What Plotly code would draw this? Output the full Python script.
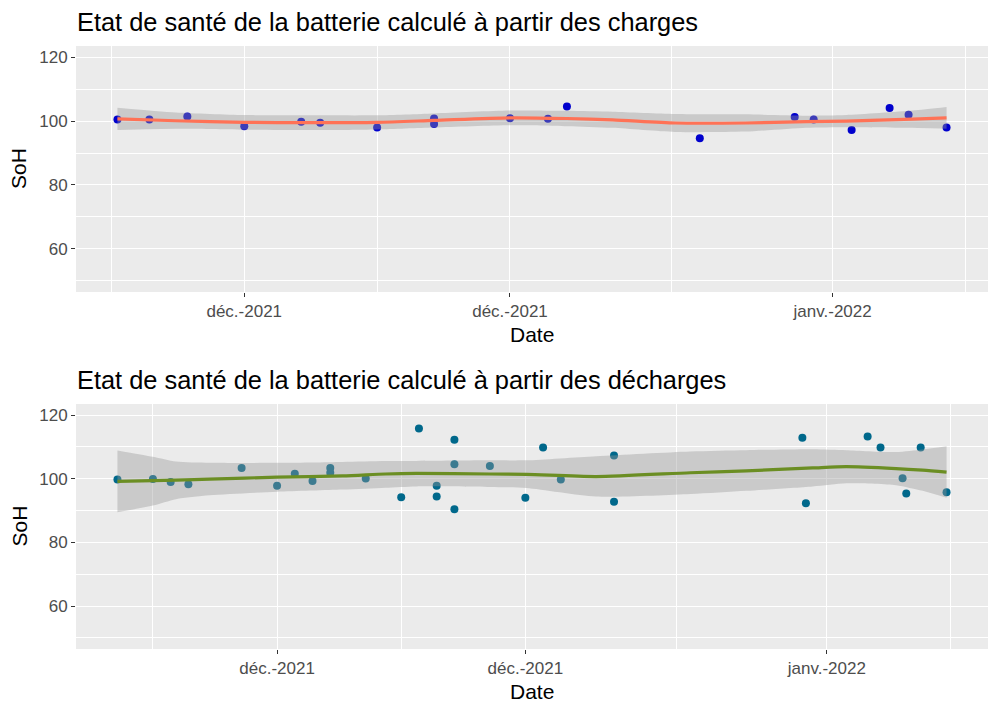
import plotly.graph_objects as go
import pandas as pd

# ---------------- data: charges ----------------
charge_dates = ["2021-11-24 07:40", "2021-11-26", "2021-11-28", "2021-12-01", "2021-12-04",
                "2021-12-05", "2021-12-08", "2021-12-11", "2021-12-11", "2021-12-15",
                "2021-12-17", "2021-12-18", "2021-12-25", "2021-12-30", "2021-12-31",
                "2022-01-02", "2022-01-04", "2022-01-05", "2022-01-07"]
charge_soh = [100.5, 100.5, 101.4, 98.4, 99.8, 99.5, 98.0, 100.8, 99.1, 100.9,
              100.7, 104.6, 94.6, 101.3, 100.5, 97.2, 104.1, 102.0, 98.0]

charge_fit_dates = ["2021-11-24 07:40", "2021-11-27 09:36", "2021-12-01", "2021-12-04 09:36",
                    "2021-12-08", "2021-12-11", "2021-12-15", "2021-12-18", "2021-12-20 09:36",
                    "2021-12-23 17:00", "2021-12-27 09:36", "2021-12-30 14:24", "2022-01-01 17:00",
                    "2022-01-05 05:00", "2022-01-07"]
charge_fit = [100.7, 100.1, 99.6, 99.5, 99.6, 100.2, 101.0, 100.8, 100.4, 99.4, 99.4, 99.8, 100.0, 100.6, 101.0]
charge_upper = [104.2, 102.7, 101.9, 101.8, 101.8, 102.4, 103.3, 103.2, 102.9, 102.2, 102.1, 101.7, 101.9, 103.3, 104.4]
charge_lower = [97.2, 97.6, 97.3, 97.2, 97.4, 98.0, 98.7, 98.4, 97.9, 96.6, 96.7, 97.9, 98.1, 97.9, 97.6]

# ---------------- data: décharges ----------------
discharge_dates = ["2021-11-22", "2021-11-24", "2021-11-25", "2021-11-26", "2021-11-29",
                   "2021-12-01", "2021-12-02", "2021-12-03", "2021-12-04", "2021-12-04",
                   "2021-12-06", "2021-12-08", "2021-12-09", "2021-12-10", "2021-12-10",
                   "2021-12-11", "2021-12-11", "2021-12-11", "2021-12-13", "2021-12-15",
                   "2021-12-16", "2021-12-17", "2021-12-20", "2021-12-20",
                   "2021-12-30 14:53", "2021-12-30 19:40", "2022-01-03 07:12", "2022-01-04 00:40",
                   "2022-01-05 06:30", "2022-01-05 11:30", "2022-01-06 07:00", "2022-01-07 18:00"]
discharge_soh = [99.8, 99.9, 99.0, 98.3, 103.4, 97.8, 101.6, 99.3, 103.4, 101.9,
                 100.1, 94.2, 115.8, 97.8, 94.4, 112.3, 104.6, 90.4, 104.0, 94.0,
                 109.8, 99.8, 107.3, 92.8, 112.9, 92.3, 113.3, 109.8, 100.2, 95.4, 109.8, 95.8]

discharge_fit_dates = ["2021-11-22", "2021-11-24", "2021-11-25 07:12", "2021-11-27 04:48",
                       "2021-12-01", "2021-12-04 16:48", "2021-12-07 02:24", "2021-12-08 20:38",
                       "2021-12-13", "2021-12-15 01:26", "2021-12-19", "2021-12-24 07:12",
                       "2021-12-27 11:02", "2021-12-31 04:48", "2022-01-02 02:24",
                       "2022-01-04 21:36", "2022-01-06 09:36", "2022-01-07 18:00"]
discharge_fit = [99.2, 99.4, 99.6, 99.9, 100.5, 100.9, 101.5, 101.7, 101.5, 101.4,
                 100.7, 101.9, 102.5, 103.4, 103.8, 103.2, 102.7, 102.1]
discharge_upper = [108.9, 106.9, 105.4, 105.0, 105.0, 105.3, 105.6, 105.6, 105.8, 105.8,
                   107.1, 108.6, 109.0, 109.3, 109.0, 108.4, 109.2, 110.2]
discharge_lower = [89.5, 91.6, 93.6, 94.8, 95.9, 96.6, 97.2, 97.6, 97.4, 97.1,
                   94.4, 95.2, 96.2, 97.6, 98.6, 98.0, 96.2, 94.0]

# ticks
x_tick_vals = ["2021-12-01", "2021-12-15", "2022-01-01"]
x_tick_text = ["déc.-2021", "déc.-2021", "janv.-2022"]
x_minor_vals = ["2021-11-17", "2021-11-24", "2021-12-08", "2021-12-23 12:00", "2022-01-08"]
y_tick_vals = [60, 80, 100, 120]
y_minor_vals = [50, 70, 90, 110]
y_limits = [50, 120]

titles = ["Etat de santé de la batterie calculé à partir des charges",
          "Etat de santé de la batterie calculé à partir des décharges"]

FONT = "Liberation Sans, Arial, sans-serif"
W, H = 1000, 715

# panel pixel boxes (left, top, right, bottom)
panels = [(76, 46, 988, 292), (76, 404, 988, 649)]


def xrange_of(dates):
    d = pd.to_datetime(pd.Series(dates), format="ISO8601")
    lo, hi = d.min(), d.max()
    pad = (hi - lo) * 0.05
    return [(lo - pad).strftime("%Y-%m-%d %H:%M:%S"), (hi + pad).strftime("%Y-%m-%d %H:%M:%S")]


fig = go.Figure()

datasets = [
    (charge_dates, charge_soh, charge_fit_dates, charge_fit, charge_upper, charge_lower, "#0000CD", "#FF7256"),
    (discharge_dates, discharge_soh, discharge_fit_dates, discharge_fit, discharge_upper, discharge_lower, "#00688B", "#6B8E23"),
]

yspan = y_limits[1] - y_limits[0]
yr = [y_limits[0] - 0.05 * yspan, y_limits[1] + 0.05 * yspan]

for i, (pd_, pv, fd, ff, fu, fl, pcol, lcol) in enumerate(datasets):
    xa = "x" if i == 0 else "x2"
    ya = "y" if i == 0 else "y2"
    fig.add_trace(go.Scatter(x=pd_, y=pv, mode="markers", xaxis=xa, yaxis=ya,
                             marker=dict(color=pcol, size=8, line=dict(width=0)), showlegend=False))
    fig.add_trace(go.Scatter(x=fd, y=fl, mode="lines", xaxis=xa, yaxis=ya,
                             line=dict(width=0, shape="spline", smoothing=0.7), showlegend=False, hoverinfo="skip"))
    fig.add_trace(go.Scatter(x=fd, y=fu, mode="lines", xaxis=xa, yaxis=ya, fill="tonexty",
                             fillcolor="rgba(153,153,153,0.4)",
                             line=dict(width=0, shape="spline", smoothing=0.7), showlegend=False, hoverinfo="skip"))
    fig.add_trace(go.Scatter(x=fd, y=ff, mode="lines", xaxis=xa, yaxis=ya,
                             line=dict(color=lcol, width=3.2, shape="spline", smoothing=0.7), showlegend=False))

    l, t, r, b = panels[i]
    xdom = [l / W, r / W]
    ydom = [1 - b / H, 1 - t / H]
    xaxis = dict(domain=xdom, anchor=ya, type="date", range=xrange_of(pd_), automargin=False,
                 tickmode="array", tickvals=x_tick_vals, ticktext=x_tick_text,
                 showgrid=True, gridcolor="white", gridwidth=1.2, zeroline=False, showline=False,
                 ticks="outside", ticklen=4, tickwidth=1, tickcolor="#333333",
                 tickfont=dict(family=FONT, size=17, color="#4D4D4D"),
                 minor=dict(tickmode="array", tickvals=x_minor_vals, showgrid=True,
                            gridcolor="white", gridwidth=0.6, ticks=""))
    yaxis = dict(domain=ydom, anchor=xa, range=yr, automargin=False,
                 tickmode="array", tickvals=y_tick_vals,
                 showgrid=True, gridcolor="white", gridwidth=1.2, zeroline=False, showline=False,
                 ticks="outside", ticklen=4, tickwidth=1, tickcolor="#333333",
                 tickfont=dict(family=FONT, size=17, color="#4D4D4D"),
                 minor=dict(tickmode="array", tickvals=y_minor_vals, showgrid=True,
                            gridcolor="white", gridwidth=0.6, ticks=""))
    if i == 0:
        fig.update_layout(xaxis=xaxis, yaxis=yaxis)
    else:
        fig.update_layout(xaxis2=xaxis, yaxis2=yaxis)

annotations = []
title_y = [22, 380]
date_y = [334, 691]
for i in range(2):
    l, t, r, b = panels[i]
    annotations.append(dict(text=titles[i], xref="paper", yref="paper", x=75 / W, y=1 - title_y[i] / H,
                            xanchor="left", yanchor="middle", showarrow=False,
                            font=dict(family=FONT, size=25.4, color="black")))
    annotations.append(dict(text="Date", xref="paper", yref="paper", x=((l + r) / 2) / W, y=1 - date_y[i] / H,
                            xanchor="center", yanchor="middle", showarrow=False,
                            font=dict(family=FONT, size=21, color="black")))
    annotations.append(dict(text="SoH", xref="paper", yref="paper", x=19 / W, y=1 - ((t + b) / 2) / H,
                            xanchor="center", yanchor="middle", showarrow=False, textangle=-90,
                            font=dict(family=FONT, size=21, color="black")))

fig.update_layout(width=W, height=H, margin=dict(l=0, r=0, t=0, b=0),
                  paper_bgcolor="white", plot_bgcolor="#EBEBEB",
                  annotations=annotations, showlegend=False)

fig.write_html("out.html", config={"displayModeBar": False},
               post_script="document.body.style.margin='0';document.body.style.overflow='hidden';")
